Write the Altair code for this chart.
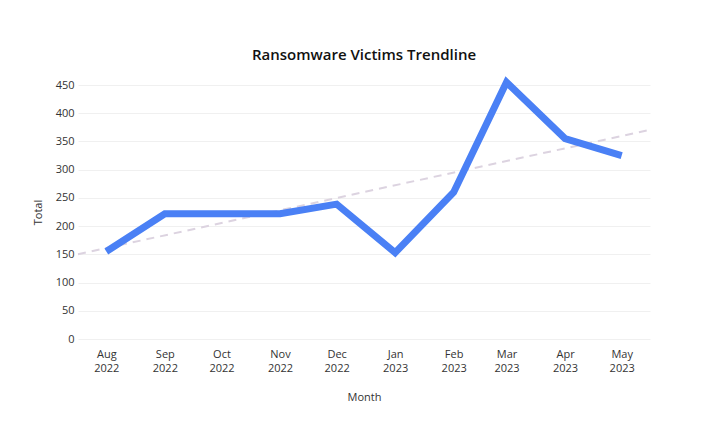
import pandas as pd
import altair as alt

months = ["2022-08-01", "2022-09-01", "2022-10-01", "2022-11-01", "2022-12-01",
          "2023-01-01", "2023-02-01", "2023-03-01", "2023-04-01", "2023-05-01"]
totals = [155, 222, 222, 222, 239, 153, 260, 455, 355, 325]


def ms(d):
    return int(pd.Timestamp(d, tz="UTC").value // 10**6)


df = pd.DataFrame({"t": [ms(m) for m in months], "total": totals})
x_domain = [ms("2022-07-17"), ms("2023-05-16")]

font = "Open Sans"

x = alt.X("t:T", title="Month",
          scale=alt.Scale(type="utc", domain=x_domain),
          axis=alt.Axis(values=[ms(m) for m in months],
                        labelExpr="[utcFormat(datum.value, '%b'), utcFormat(datum.value, '%Y')]",
                        grid=False, domain=False, ticks=False, labelPadding=9,
                        labelFontSize=11, labelColor="#333", labelLineHeight=14,
                        titleFontSize=11, titleFontWeight="normal", titleColor="#333",
                        titlePadding=18))
y = alt.Y("total:Q", title="Total",
          scale=alt.Scale(domain=[0, 450], nice=False),
          axis=alt.Axis(values=list(range(0, 451, 50)), domain=False, ticks=False,
                        labelPadding=4, labelFontSize=11, labelColor="#333",
                        gridColor="#f0f0f0", titleFontSize=11, titleFontWeight="normal",
                        titleColor="#333", titlePadding=12))

base = alt.Chart(df)

line = base.mark_line(color="#4a80f5", strokeWidth=7, strokeCap="butt",
                      strokeJoin="miter").encode(x=x, y=y)

trend = base.transform_regression("t", "total", extent=x_domain).mark_line(
    color="#dcd3e0", strokeWidth=2, strokeDash=[8, 6]).encode(x=x, y=y)

chart = alt.layer(trend, line).properties(
    width=572, height=254,
    autosize=alt.AutoSizeParams(type="none"),
    padding={"left": 70, "top": 77, "right": 40, "bottom": 80},
    title=alt.TitleParams("Ransomware Victims Trendline", fontSize=15,
                          fontWeight=600, color="#111", offset=5, anchor="middle"),
).configure(font=font, view=alt.ViewConfig(strokeOpacity=0))

chart.save("out.html", embed_options={"renderer": "svg", "actions": False})
